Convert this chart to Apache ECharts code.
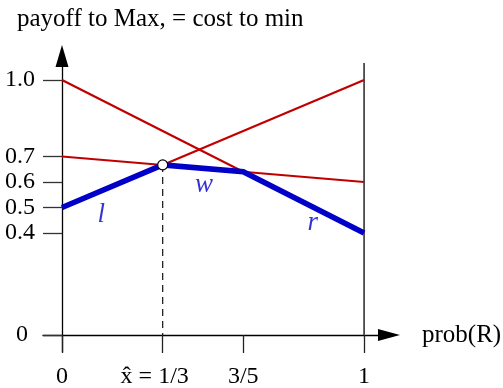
<!DOCTYPE html>
<html>
<head>
<meta charset="utf-8">
<script src="https://cdn.jsdelivr.net/npm/echarts@6/dist/echarts.min.js"></script>
<style>
html,body{margin:0;padding:0;background:#fff;}
#c{width:503px;height:388px;}
</style>
</head>
<body>
<div id="c"></div>
<script>
// ---- data ----
const xTicks = [0, 1/3, 3/5, 1];
const xTickLabels = ['0', 'x\u0302 = 1/3', '3/5', '1'];
const yTicks = [0, 0.4, 0.5, 0.6, 0.7, 1.0];
const yTickLabels = ['0', '0.4', '0.5', '0.6', '0.7', '1.0'];
// payoff lines: value at prob(R)=0 and prob(R)=1
const lineEnds = [0, 1];
const payoffL = [0.5, 1.0];
const payoffW = [0.7, 0.6];
const payoffR = [1.0, 0.4];
// lower envelope (thick blue)
const envX = [0, 1/3, 3/5, 1];
const envY = [0.5, 0.667, 0.64, 0.4];
// equilibrium point
const eqX = 1/3;
const eqY = 0.667;
const rightEdgeTop = 1.067;
// strategy labels
const stratNames = ['l', 'w', 'r'];
const stratLabelX = [0.13, 0.47, 0.83];
const stratLabelY = [0.472, 0.59, 0.438];

const FONT = "'Liberation Serif','Times New Roman',serif";
const RED = '#c00000';
const BLUE = '#0000c8';

const pairs = (xs, ys) => xs.map((x, i) => [x, ys[i]]);

const chart = echarts.init(document.getElementById('c'), null, {renderer: 'canvas'});
const redLine = (vals) => ({
  type: 'line', data: pairs(lineEnds, vals), symbol: 'none', silent: true,
  lineStyle: {color: RED, width: 2.2}, z: 2
});

chart.setOption({
  animation: false,
  backgroundColor: '#fff',
  title: {
    text: 'payoff to Max, = cost to min',
    left: 17, top: 7, padding: 0,
    textStyle: {fontFamily: FONT, fontSize: 25, fontWeight: 'normal', color: '#000'}
  },
  grid: {left: 43, right: 114, top: 56, bottom: 36, containLabel: false, outerBoundsMode: 'none'},
  xAxis: {
    type: 'value', min: -0.0629, max: 1.0825,
    name: 'prob(R)', nameLocation: 'end', nameGap: 33,
    nameTextStyle: {fontFamily: FONT, fontSize: 25, color: '#000', verticalAlign: 'middle'},
    axisLine: {onZero: true, lineStyle: {color: '#000', width: 1.3}, symbol: ['none', 'triangle'], symbolSize: [12, 22]},
    axisTick: {show: true, inside: false, length: 18, customValues: xTicks, lineStyle: {color: '#222', width: 1.3}},
    axisLabel: {
      show: true, margin: 13, customValues: xTicks,
      fontFamily: FONT, fontSize: 24, color: '#000',
      formatter: function (v) {
        const i = xTicks.findIndex(t => Math.abs(t - v) < 1e-6);
        if (i === 1) return '{h|' + xTickLabels[i] + '}';
        return i >= 0 ? xTickLabels[i] : '';
      },
      rich: {h: {fontFamily: FONT, fontSize: 24, color: '#000', padding: [0, 16, 0, 0]}}
    },
    splitLine: {show: false}
  },
  yAxis: {
    type: 'value', min: -0.06667, max: 1.0941,
    axisLine: {onZero: true, lineStyle: {color: '#000', width: 1.3}, symbol: ['none', 'triangle'], symbolSize: [13, 22]},
    axisTick: {show: true, inside: false, length: 19, customValues: yTicks, lineStyle: {color: '#333', width: 1.3}},
    axisLabel: {
      show: true, margin: 8, customValues: yTicks,
      fontFamily: FONT, fontSize: 24, color: '#000',
      formatter: function (v) {
        const i = yTicks.findIndex(t => Math.abs(t - v) < 1e-6);
        if (i === 0) return '{z|' + yTickLabels[i] + '}';
        return i >= 0 ? yTickLabels[i] : '';
      },
      rich: {z: {fontFamily: FONT, fontSize: 24, color: '#000', padding: [0, 7, 0, 0]}}
    },
    splitLine: {show: false}
  },
  series: [
    redLine(payoffL),
    redLine(payoffW),
    redLine(payoffR),
    {
      type: 'line', data: pairs(envX, envY), symbol: 'none', silent: true,
      lineStyle: {color: BLUE, width: 5.5, join: 'miter'}, z: 3
    },
    {
      type: 'line', data: [[1, 0], [1, rightEdgeTop]], symbol: 'none', silent: true,
      lineStyle: {color: '#333', width: 1.6}, z: 1
    },
    {
      type: 'line', data: [[eqX, eqY], [eqX, 0]], symbol: 'none', silent: true,
      lineStyle: {color: '#111', width: 1.2, type: [7, 5]}, z: 1
    },
    {
      type: 'scatter', data: [[eqX, eqY]], symbol: 'circle', symbolSize: 10, silent: true,
      itemStyle: {color: '#fff', borderColor: '#000', borderWidth: 1.2, opacity: 1}, z: 5
    },
    {
      type: 'scatter', symbolSize: 0, silent: true, itemStyle: {color: 'rgba(0,0,0,0)'},
      data: stratNames.map((n, i) => ({name: n, value: [stratLabelX[i], stratLabelY[i]]})),
      label: {
        show: true, position: 'inside', formatter: '{b}',
        fontFamily: FONT, fontSize: 27, fontStyle: 'italic', color: BLUE
      }, z: 6
    }
  ]
});
</script>
</body>
</html>
